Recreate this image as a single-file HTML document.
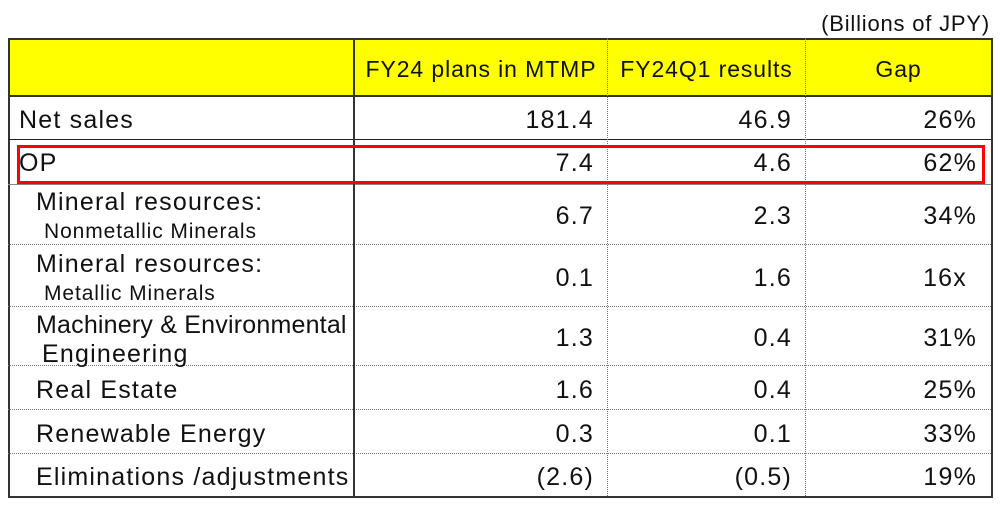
<!DOCTYPE html>
<html><head><style>
body{margin:0;width:1000px;height:505px;background:#fff;position:relative;font-family:"Liberation Sans",sans-serif;color:#111;overflow:hidden}
.a{position:absolute}
.t{position:absolute;font-size:25px;letter-spacing:1.2px;white-space:nowrap;line-height:28px}
.s{font-size:21px;letter-spacing:0.9px}
.r{text-align:right}
</style></head><body>
<div class="t" style="right:10px;top:10px;font-size:22px;letter-spacing:0.8px">(Billions of JPY)</div>
<div class="a" style="left:8px;top:38px;width:981px;height:456px;border:2px solid #333"></div>
<div class="a" style="left:10px;top:40px;width:981px;height:55px;background:#ffff00"></div>
<div class="a" style="left:8px;top:95px;width:983px;border-top:2px solid #333"></div>
<div class="a" style="left:8px;top:139px;width:983px;border-top:1px solid #222"></div>
<div class="a" style="left:8px;top:184px;width:983px;border-top:1px solid #888"></div>
<div class="a" style="left:8px;top:244px;width:983px;border-top:1px dotted #777"></div>
<div class="a" style="left:8px;top:306px;width:983px;border-top:1px dotted #777"></div>
<div class="a" style="left:8px;top:365px;width:983px;border-top:1px dotted #777"></div>
<div class="a" style="left:8px;top:409px;width:983px;border-top:1px dotted #777"></div>
<div class="a" style="left:8px;top:453px;width:983px;border-top:1px dotted #777"></div>
<div class="a" style="left:353px;top:38px;height:458px;border-left:2px solid #333"></div>
<div class="a" style="left:607px;top:38px;height:458px;border-left:1px dotted #777"></div>
<div class="a" style="left:805px;top:38px;height:458px;border-left:1px dotted #777"></div>
<div class="a" style="left:17px;top:145px;width:962px;height:33px;border:3px solid #f00"></div>

<div class="t" style="left:356px;width:250px;text-align:center;top:55px;font-size:23px;letter-spacing:0.9px">FY24 plans in MTMP</div>
<div class="t" style="left:608px;width:197px;text-align:center;top:55px;font-size:23px;letter-spacing:0.9px">FY24Q1 results</div>
<div class="t" style="left:806px;width:185px;text-align:center;top:55px;font-size:23px;letter-spacing:0.9px">Gap</div>

<div class="t" style="left:19px;top:106px">Net sales</div>
<div class="t" style="left:19px;top:149px">OP</div>
<div class="t" style="left:36px;top:188px">Mineral resources:</div>
<div class="t s" style="left:44px;top:218px">Nonmetallic Minerals</div>
<div class="t" style="left:36px;top:250px">Mineral resources:</div>
<div class="t s" style="left:44px;top:280px">Metallic Minerals</div>
<div class="t" style="left:36px;top:311px;letter-spacing:0.2px">Machinery &amp; Environmental</div>
<div class="t" style="left:42px;top:340px">Engineering</div>
<div class="t" style="left:36px;top:376px">Real Estate</div>
<div class="t" style="left:36px;top:420px">Renewable Energy</div>
<div class="t" style="left:36px;top:463px">Eliminations /adjustments</div>

<div class="t r" style="right:406px;top:106px">181.4</div>
<div class="t r" style="right:406px;top:149px">7.4</div>
<div class="t r" style="right:406px;top:202px">6.7</div>
<div class="t r" style="right:406px;top:264px">0.1</div>
<div class="t r" style="right:406px;top:324px">1.3</div>
<div class="t r" style="right:406px;top:376px">1.6</div>
<div class="t r" style="right:406px;top:420px">0.3</div>
<div class="t r" style="right:406px;top:463px">(2.6)</div>

<div class="t r" style="right:208px;top:106px">46.9</div>
<div class="t r" style="right:208px;top:149px">4.6</div>
<div class="t r" style="right:208px;top:202px">2.3</div>
<div class="t r" style="right:208px;top:264px">1.6</div>
<div class="t r" style="right:208px;top:324px">0.4</div>
<div class="t r" style="right:208px;top:376px">0.4</div>
<div class="t r" style="right:208px;top:420px">0.1</div>
<div class="t r" style="right:208px;top:463px">(0.5)</div>

<div class="t r" style="right:23px;top:106px">26%</div>
<div class="t r" style="right:23px;top:149px">62%</div>
<div class="t r" style="right:23px;top:202px">34%</div>
<div class="t r" style="right:33px;top:264px">16x</div>
<div class="t r" style="right:23px;top:324px">31%</div>
<div class="t r" style="right:23px;top:376px">25%</div>
<div class="t r" style="right:23px;top:420px">33%</div>
<div class="t r" style="right:23px;top:463px">19%</div>
</body></html>
